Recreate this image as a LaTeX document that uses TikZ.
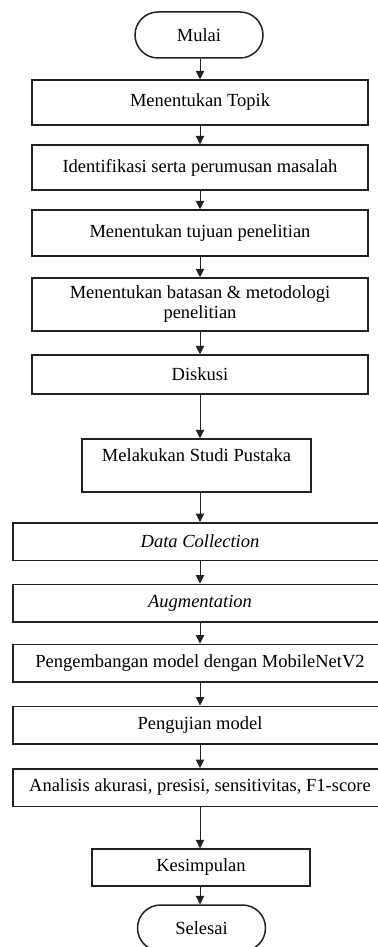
\documentclass[tikz,border=0pt]{standalone}
\usepackage{fontspec}
\setmainfont{Liberation Serif}
\usetikzlibrary{arrows.meta, positioning}
\definecolor{lineblack}{HTML}{222222}

\begin{document}
\begin{tikzpicture}[
    x=0.6pt, y=-0.6pt,
    box/.style={draw=lineblack, line width=0.9pt, fill=white, align=center, inner sep=2pt, font=\fontsize{11.1}{12}\selectfont},
    stagebox/.style={box, minimum width=201.6pt},
    databox/.style={box, minimum width=224.4pt, minimum height=22.5pt},
    term/.style={box, rounded corners=13.8pt, minimum width=76.8pt, minimum height=27.6pt},
    flow/.style={-{Triangle[width=5pt, length=5pt]}, line width=0.6pt, draw=lineblack}
  ]
  \useasboundingbox (0,0) rectangle (377,947);

  % Start
  \node[term] (mulai) at (199, 35) {Mulai};

  % Research preparation
  \node[stagebox, minimum height=27pt] (topik) at (200, 102.5) {Menentukan Topik};
  \node[stagebox, minimum height=27pt] (masalah) at (200, 167.5) {Identifikasi serta perumusan masalah};
  \node[stagebox, minimum height=27.6pt] (tujuan) at (200, 233) {Menentukan tujuan penelitian};
  \node[stagebox, minimum height=31.8pt] (batasan) at (200, 304.5) {Menentukan batasan \& metodologi\\penelitian};
  \node[stagebox, minimum height=23.4pt] (diskusi) at (200, 374.5) {Diskusi};
  \node[box, minimum width=137.4pt, minimum height=31.8pt] (studi) at (196.5, 465.5) {Melakukan Studi Pustaka\\\mbox{}};

  % Model work
  \node[databox] (data) at (200, 541.5) {\textit{Data Collection}};
  \node[databox] (augment) at (200, 603) {\textit{Augmentation}};
  \node[databox] (model) at (200, 663) {Pengembangan model dengan MobileNetV2};
  \node[databox] (uji) at (200, 725) {Pengujian model};
  \node[databox] (analisis) at (200, 787.5) {Analisis akurasi, presisi, sensitivitas, F1-score};

  % Closing
  \node[box, minimum width=130.8pt, minimum height=22.2pt] (simpulan) at (201, 867.5) {Kesimpulan};
  \node[term] (selesai) at (201.5, 928) {Selesai};

  % Connectors
  \draw[flow] (mulai.south -| topik) -- (topik.north);
  \draw[flow] (topik) -- (masalah);
  \draw[flow] (masalah) -- (tujuan);
  \draw[flow] (tujuan) -- (batasan);
  \draw[flow] (batasan) -- (diskusi);
  \draw[flow] (diskusi.south) -- (diskusi.south |- studi.north);
  \draw[flow] (studi.south -| data.north) -- (data.north);
  \draw[flow] (data) -- (augment);
  \draw[flow] (augment) -- (model);
  \draw[flow] (model) -- (uji);
  \draw[flow] (uji) -- (analisis);
  \draw[flow] (analisis.south) -- (analisis.south |- simpulan.north);
  \draw[flow] (simpulan.south -| analisis.south) -- (analisis.south |- selesai.north);
\end{tikzpicture}
\end{document}
